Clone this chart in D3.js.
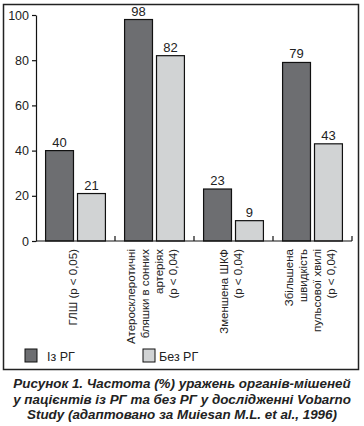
<!DOCTYPE html>
<html>
<head>
<meta charset="utf-8">
<script src="https://cdn.jsdelivr.net/npm/d3@7"></script>
<style>
  body { margin: 0; background: #fff; }
  svg text { fill: #222; }
  .narrow { font-family: "Liberation Sans Narrow", "Arial Narrow", "Liberation Sans", Arial, sans-serif; }
  .caption { font-family: "Liberation Sans", Arial, sans-serif; font-weight: bold; font-style: italic; font-size: 13.4px; }
</style>
</head>
<body>
<svg id="chart" width="364" height="426"></svg>
<script>
// Chart data
const categories = ['ГЛШ', 'Атеросклеротичні бляшки', 'Зменшена ШКФ', 'Збільшена ШПХ'];
const categoryLines = [
  ['ГЛШ (p < 0,05)'],
  ['Атеросклеротичні', 'бляшки в сонних', 'артеріях', '(p < 0,04)'],
  ['Зменшена ШКФ', '(p < 0,04)'],
  ['Збільшена', 'швидкість', 'пульсової хвилі', '(p < 0,04)']
];
const seriesNames = ['Із РГ', 'Без РГ'];
const withRG = [40, 98, 23, 79];
const withoutRG = [21, 82, 9, 43];
const yTicks = [0, 20, 40, 60, 80, 100];
const captionLines = [
  'Рисунок 1. Частота (%) уражень органів-мішеней',
  'у пацієнтів із РГ та без РГ у дослідженні Vobarno',
  'Study (адаптовано за Muiesan M.L. et al., 1996)'
];

const colors = ['#6d6e71', '#d1d3d4'];

const svg = d3.select('#chart');

// frame
svg.append('rect')
  .attr('x', 3.5).attr('y', 4.5)
  .attr('width', 355).attr('height', 365)
  .attr('fill', 'none')
  .attr('stroke', '#222')
  .attr('stroke-width', 1.5);

const xScale = d3.scaleBand()
  .domain(categories)
  .range([36, 352])
  .padding(0);

const x1Scale = d3.scaleBand()
  .domain(seriesNames)
  .range([0, xScale.bandwidth()])
  .paddingInner(0.126)
  .paddingOuter(0.3);

const yScale = d3.scaleLinear()
  .domain([0, 100])
  .range([241, 15]);

const color = d3.scaleOrdinal().domain(seriesNames).range(colors);

const rows = categories.map((c, i) => ({
  cat: c,
  values: [
    { name: seriesNames[0], value: withRG[i] },
    { name: seriesNames[1], value: withoutRG[i] }
  ]
}));

// bars
const groups = svg.selectAll('.group')
  .data(rows)
  .enter().append('g')
  .attr('class', 'group')
  .attr('transform', d => `translate(${xScale(d.cat)},0)`);

groups.selectAll('rect')
  .data(d => d.values)
  .enter().append('rect')
  .attr('x', d => x1Scale(d.name))
  .attr('width', x1Scale.bandwidth())
  .attr('y', d => yScale(d.value))
  .attr('height', d => yScale(0) - yScale(d.value))
  .attr('fill', d => color(d.name))
  .attr('stroke', '#111')
  .attr('stroke-width', 1.2);

groups.selectAll('.val')
  .data(d => d.values)
  .enter().append('text')
  .attr('class', 'val narrow')
  .attr('x', d => x1Scale(d.name) + x1Scale.bandwidth() / 2)
  .attr('y', d => yScale(d.value) - 4)
  .attr('text-anchor', 'middle')
  .style('font-size', '13px')
  .text(d => d.value);

// y axis
const yAxis = svg.append('g')
  .attr('transform', 'translate(36,0)')
  .call(d3.axisLeft(yScale).tickValues(yTicks).tickSize(4).tickSizeOuter(0).tickPadding(3));
yAxis.selectAll('path, line').attr('stroke', '#111').attr('stroke-width', 1.2);
yAxis.selectAll('text')
  .attr('class', 'narrow')
  .style('font-size', '12.5px')
  .attr('fill', '#222');

// x axis baseline with upward ticks at category borders
svg.append('line')
  .attr('x1', xScale.range()[0]).attr('x2', xScale.range()[1])
  .attr('y1', yScale(0)).attr('y2', yScale(0))
  .attr('stroke', '#111').attr('stroke-width', 1.2);

svg.selectAll('.xtick')
  .data(categories)
  .enter().append('line')
  .attr('class', 'xtick')
  .attr('x1', d => xScale(d) + xScale.bandwidth())
  .attr('x2', d => xScale(d) + xScale.bandwidth())
  .attr('y1', yScale(0)).attr('y2', yScale(0) - 5)
  .attr('stroke', '#111').attr('stroke-width', 1.2);

// rotated category labels
const lineStep = 14;
categories.forEach((c, i) => {
  const cx = xScale(c) + xScale.bandwidth() / 2;
  const lines = categoryLines[i];
  lines.forEach((ln, j) => {
    const bx = cx + (j - (lines.length - 1) / 2) * lineStep + 1;
    svg.append('text')
      .attr('class', 'narrow')
      .attr('transform', `translate(${bx},249) rotate(-90)`)
      .attr('text-anchor', 'end')
      .style('font-size', '11.5px')
      .text(ln);
  });
});

// legend
const legendX = [25, 143];
const legend = svg.selectAll('.legend-item')
  .data(seriesNames)
  .enter().append('g')
  .attr('class', 'legend-item')
  .attr('transform', (d, i) => `translate(${legendX[i]},349)`);

legend.append('rect')
  .attr('width', 12)
  .attr('height', 13)
  .attr('fill', d => color(d))
  .attr('stroke', '#111')
  .attr('stroke-width', 1);

legend.append('text')
  .attr('class', 'narrow')
  .attr('x', (d, i) => i === 0 ? 22 : 16)
  .attr('y', 12)
  .style('font-size', '12.5px')
  .text(d => d);

// caption
svg.selectAll('.caption')
  .data(captionLines)
  .enter().append('text')
  .attr('class', 'caption')
  .attr('x', 182)
  .attr('y', (d, i) => 388 + i * 15.5)
  .attr('text-anchor', 'middle')
  .text(d => d);
</script>
</body>
</html>
